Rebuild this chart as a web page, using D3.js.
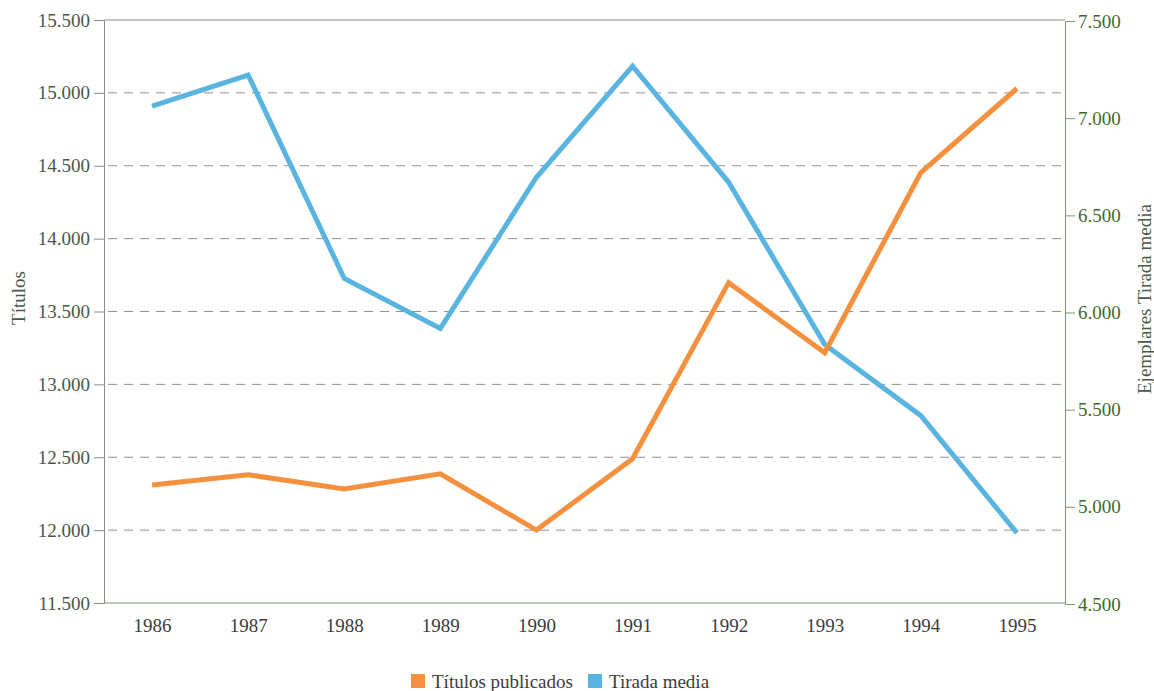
<!DOCTYPE html>
<html><head><meta charset="utf-8">
<script src="https://cdn.jsdelivr.net/npm/d3@7"></script>
<style>body{margin:0;background:#fff}svg{display:block}svg text{font-family:"Liberation Serif","Times New Roman",serif}</style>
</head><body>
<svg id="chart" width="1154" height="691"></svg>
<script>
const years = ["1986","1987","1988","1989","1990","1991","1992","1993","1994","1995"];
const titulos = [12310, 12380, 12283, 12386, 12000, 12490, 13698, 13217, 14453, 15030];
const tirada = [7062, 7222, 6175, 5918, 6696, 7268, 6670, 5835, 5469, 4866];
const leftTicks = [11500, 12000, 12500, 13000, 13500, 14000, 14500, 15000, 15500];
const rightTicks = [4500, 5000, 5500, 6000, 6500, 7000, 7500];
const seriesNames = ["Títulos publicados", "Tirada media"];
const colors = ["#f5913e", "#5ab4e0"];

const svg = d3.select("#chart");
const L = 104, R = 1065, T = 20, B = 603;
const font = '"Liberation Serif", "Times New Roman", serif';
const fs = "19px";
const fmt = v => d3.format(",")(v).replace(/,/g, ".");

const x = d3.scalePoint().domain(years).range([L, R]).padding(0.5);
const yL = d3.scaleLinear().domain([11500, 15500]).range([B, T]);
const yR = d3.scaleLinear().domain([4500, 7500]).range([B + 1, T + 1]);

// gridlines
svg.append("g").selectAll("line").data(leftTicks.slice(1, -1)).join("line")
  .attr("x1", L + 4).attr("x2", R - 4)
  .attr("y1", d => yL(d)).attr("y2", d => yL(d))
  .attr("stroke", "#909090").attr("stroke-width", 1).attr("stroke-dasharray", "9,7");

// top border
svg.append("line").attr("x1", L).attr("x2", R).attr("y1", T).attr("y2", T)
  .attr("stroke", "#8a8a8a").attr("stroke-width", 1);

// left axis
const gl = svg.append("g").attr("transform", `translate(${L},0)`)
  .call(d3.axisLeft(yL).tickValues(leftTicks).tickFormat(fmt).tickSize(10).tickPadding(4));
gl.attr("font-family", null);
gl.select(".domain").attr("stroke", "#8a8a8a");
gl.selectAll(".tick line").attr("stroke", "#8a8a8a");
gl.selectAll("text").style("font-family", font).style("font-size", fs).attr("fill", "#4a5848");

// right axis
const gr = svg.append("g").attr("transform", `translate(${R},0)`)
  .call(d3.axisRight(yR).tickValues(rightTicks).tickFormat(fmt).tickSize(10).tickPadding(3));
gr.attr("font-family", null);
gr.select(".domain").attr("stroke", "#7f9a6c");
gr.selectAll(".tick line").attr("stroke", "#7f9a6c");
gr.selectAll("text").style("font-family", font).style("font-size", fs).attr("fill", "#3f6a2c");

// bottom axis
const gb = svg.append("g").attr("transform", `translate(0,${B})`)
  .call(d3.axisBottom(x).tickSize(0).tickPadding(16));
gb.attr("font-family", null);
gb.select(".domain").attr("stroke", "#7f9a6c").attr("d", `M${L},0H${R}`);
gb.selectAll("text").style("font-family", font).style("font-size", fs).attr("fill", "#3c3c3c");

// lines
const lineL = d3.line().x((d, i) => x(years[i])).y(d => yL(d));
const lineR = d3.line().x((d, i) => x(years[i])).y(d => yR(d));
svg.append("path").datum(tirada).attr("d", lineR).attr("fill", "none")
  .attr("stroke", colors[1]).attr("stroke-width", 5).attr("stroke-linejoin", "miter");
svg.append("path").datum(titulos).attr("d", lineL).attr("fill", "none")
  .attr("stroke", colors[0]).attr("stroke-width", 5).attr("stroke-linejoin", "miter");

// axis titles
svg.append("text").attr("transform", `translate(25,298) rotate(-90)`)
  .attr("text-anchor", "middle").style("font-family", font).style("font-size", fs)
  .attr("fill", "#4a5848").text("Títulos");
svg.append("text").attr("transform", `translate(1151,299) rotate(-90)`)
  .attr("text-anchor", "middle").style("font-family", font).style("font-size", fs)
  .attr("fill", "#4a5848").text("Ejemplares Tirada media");

// legend
const legX = [411, 588];
const leg = svg.append("g").selectAll("g").data(seriesNames).join("g")
  .attr("transform", (d, i) => `translate(${legX[i]},674)`);
leg.append("rect").attr("width", 14).attr("height", 14).attr("fill", (d, i) => colors[i]);
leg.append("text").attr("x", 21).attr("y", 14).style("font-family", font).style("font-size", fs)
  .attr("fill", "#3c3c3c").text(d => d);
</script>
</body></html>
